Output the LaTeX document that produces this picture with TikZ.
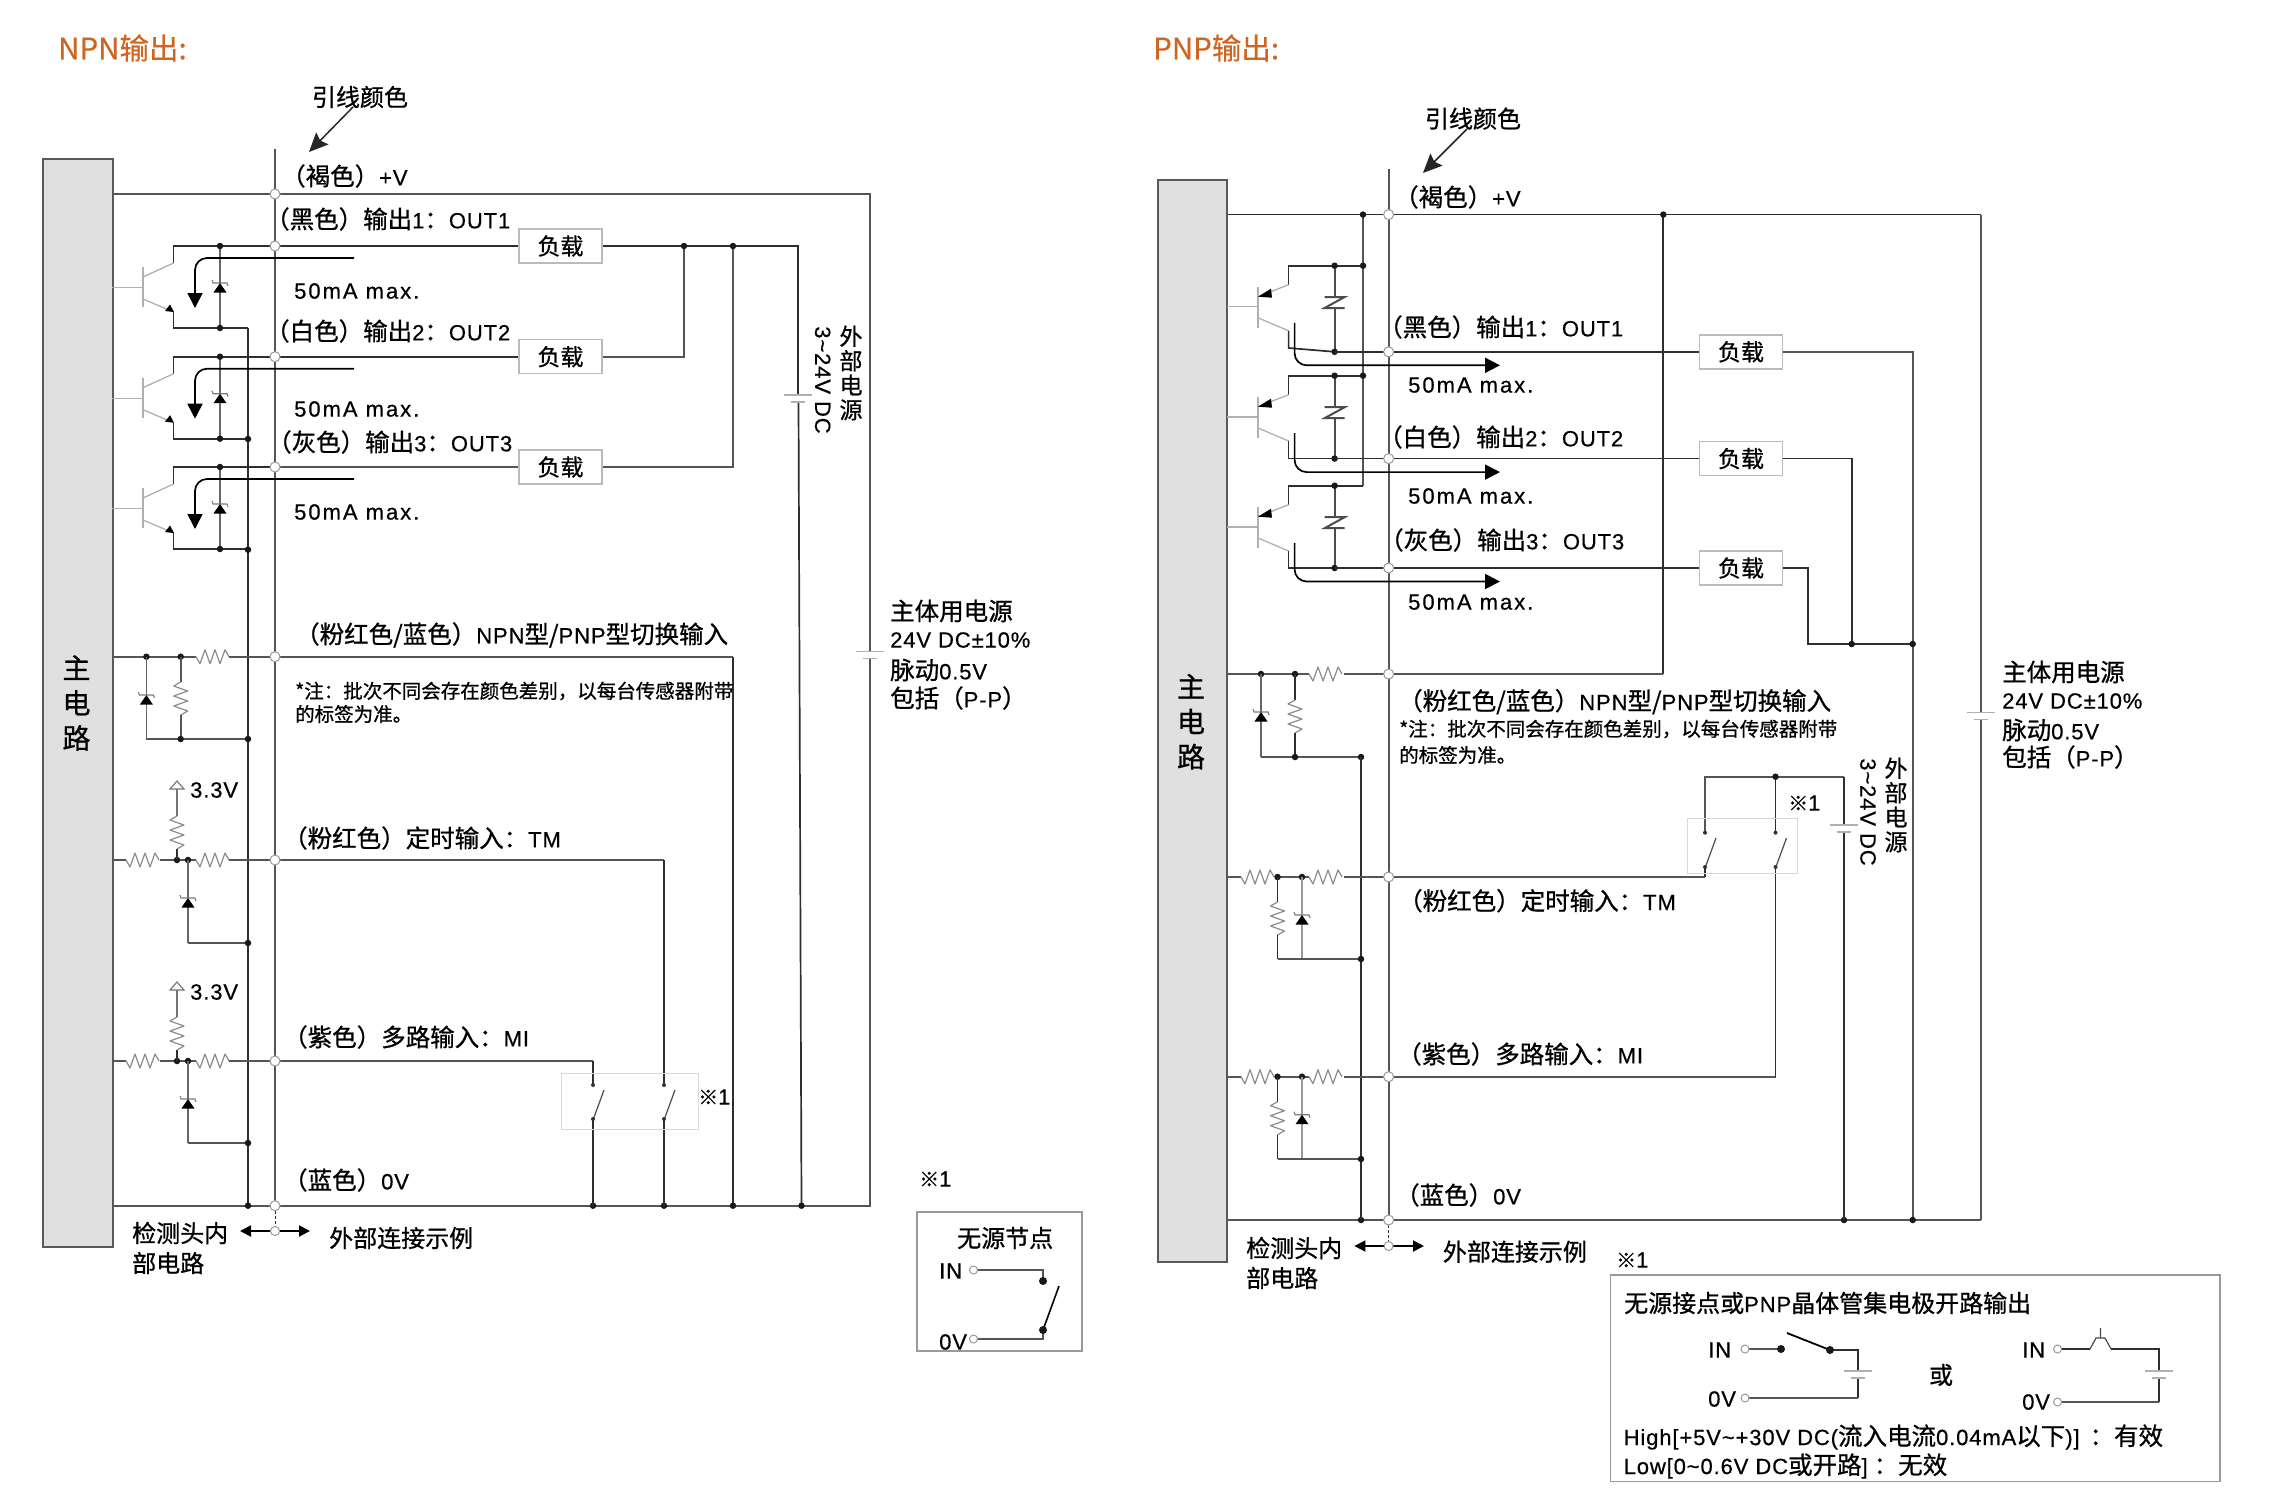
\documentclass[tikz,border=0pt]{standalone}
\usepackage{fontspec}
\usetikzlibrary{arrows.meta}
\setmainfont{Liberation Sans}
\newfontfamily\cjk{Noto Sans CJK SC}[FakeBold=0.8]
\newfontfamily\hdr{Noto Sans CJK SC}[FakeBold=0.3]
\newfontfamily\lat{Liberation Sans}[LetterSpace=4,FakeBold=0.5]
\newfontfamily\latw{Liberation Sans}[LetterSpace=9,FakeBold=0.5]
\newcommand{\fs}[1]{\fontsize{#1}{#1}\selectfont}
\newcommand{\C}[1]{{\fs{24.5}\cjk #1}}
\definecolor{wirec}{HTML}{2E2E2E}
\definecolor{wiretk}{HTML}{555555}
\definecolor{thinc}{HTML}{B0B0B0}
\definecolor{boxc}{HTML}{BBBBBB}
\definecolor{orangec}{HTML}{D0651F}
\tikzset{
  wire/.style={draw=wirec,line width=1.7pt},
  wirethick/.style={draw=wiretk,line width=2.4pt},
  thinw/.style={draw=thinc,line width=1.3pt},
  res/.style={draw=black!45,line width=1.2pt,line join=round},
  cur/.style={draw=black,line width=1.7pt,rounded corners=12pt,-{Triangle[length=15pt,width=15pt]}},
  jdot/.style={circle,fill=black!90,inner sep=0pt,minimum size=6.5pt},
  sdot/.style={circle,fill=black!80,inner sep=0pt,minimum size=4pt},
  term/.style={circle,fill=white,draw=black!40,line width=1pt,inner sep=0pt,minimum size=10pt},
  loadbox/.style={draw=boxc,fill=white,line width=1.5pt,minimum width=83pt,minimum height=34pt,inner sep=0pt,font=\fs{23}\cjk},
  mainbox/.style={draw=black!65,fill=black!12,line width=2pt,inner sep=0pt},
  lbl/.style={anchor=west,inner sep=0pt,font=\fs{22}\lat},
  cn/.style={anchor=west,inner sep=0pt,font=\fs{24}\cjk},
  note/.style={anchor=west,inner sep=0pt,font=\fs{19.5}\cjk},
  head/.style={anchor=west,inner sep=0pt,text=orangec,font=\fs{29.5}\hdr},
  stack/.style={inner sep=0pt,align=center,font=\fontsize{28}{35}\selectfont\cjk},
  vstack/.style={inner sep=0pt,align=center,font=\fontsize{23}{24.5}\selectfont\cjk},
  psbox/.style={draw=black!40,line width=1.3pt,fill=none},
  swbox/.style={draw=black!15,line width=1pt},
  lead/.style={draw=black!85,line width=1.5pt,-{Stealth[length=19pt,width=17pt,inset=3pt]}},
  dbl/.style={draw=black,line width=2pt,{Triangle[length=11pt,width=11pt]}-{Triangle[length=11pt,width=11pt]}}
}
\newcommand{\myhres}[2]{\draw[res,shift={(#1,#2)}] (0,0)--(4,7)--(9,-7)--(14,7)--(19,-7)--(24,7)--(29,-7)--(33,0);}
\newcommand{\myvres}[2]{\draw[res,shift={(#1,#2)}] (0,0)--(-7,4)--(7,9)--(-7,14)--(7,19)--(-7,24)--(7,29)--(0,33);}
\newcommand{\mydiode}[2]{\fill[black,shift={(#1,#2)}] (0,0)--(6.5,9.5)--(-6.5,9.5)--cycle;
  \draw[thinc!70!black,line width=1.1pt,shift={(#1,#2)}] (-8,-3)--(-7,0)--(7,0)--(8,3);}
\newcommand{\mybat}[2]{\draw[thinc,line width=1.6pt,shift={(#1,#2)}] (-14,0)--(14,0) (-7,7)--(7,7);}
\newcommand{\myzen}[2]{\draw[black!70,line width=2pt,shift={(#1,#2)}] (-10,-5.5)--(10,-5.5)--(-10,5.5)--(10,5.5);}
\newcommand{\mysw}[2]{\draw[draw=black!70,line width=1.2pt,shift={(#1,#2)}] (11,4)--(0,34);}
\begin{document}
\begin{tikzpicture}[x=1pt,y=-1pt]
\useasboundingbox (0,0) rectangle (2275,1505);
\fill[white] (0,0) rectangle (2275,1505);
\node[head] (hNPN) at (58,48) {NPN输出:};
\node[head] (hPNP) at (1153,48) {PNP输出:};
% ================= NPN ===================
\node[mainbox,minimum width=69.5pt,minimum height=1088pt] (nbox) at (78,703) {};
\node[stack] (nmain) at (76.5,703) {主\\电\\路};
\coordinate (ntV) at (275,194);
\coordinate (nt1) at (275,246);
\coordinate (nt2) at (275,356.7);
\coordinate (nt3) at (275,467);
\coordinate (ntS) at (275,656.7);
\coordinate (ntT) at (275,860);
\coordinate (ntM) at (275,1061);
\coordinate (nt0) at (275,1205.7);
\node[loadbox] (nL1) at (560.5,246) {负载};
\node[loadbox] (nL2) at (560.5,356.7) {负载};
\node[loadbox] (nL3) at (560.5,467) {负载};
\draw[wirethick] (nbox.east|-ntV) -- (ntV) -- (870,194) -- (870,651.4);
\draw[wirethick] (870,658.4) -- (870,1205.7) -- (nt0) -- (nbox.east|-nt0);
\draw[wirethick,line width=2pt] (275,149) -- (nt0);
\draw[wire,dashed,line width=1pt,dash pattern=on 3pt off 2pt] (nt0) -- (275,1231);
\draw[wire] (nt1) -- (nL1.west);
\draw[wire] (nt2) -- (nL2.west);
\draw[wirethick] (nt3) -- (nL3.west);
\draw[wire] (nL1.east) -- (798,246) -- (798,395);
\draw[wire] (798.5,402) -- (801.5,1205.7);
\draw[wirethick,line width=2pt] (nL2.east) -- (684,356.7) -- (684,246);
\draw[wirethick,line width=2pt] (nL3.east) -- (733,467) -- (733,246);
\draw[wire] (733,656.7) -- (733,1205.7);
\node[jdot] at (684,246) {};
\node[jdot] at (733,246) {};
\node[jdot] at (733,1205.7) {};
\node[jdot] at (801.5,1205.7) {};
\node[jdot] at (664,1205.7) {};
\node[jdot] at (593,1205.7) {};
\mybat{798}{395}
\mybat{870}{651.4}
\draw[wire] (248,328) -- (248,1205.7);
\node[jdot] at (248,1205.7) {};
\draw[wirethick] (ntS) -- (733,656.7);
% transistors
\foreach \ty in {246,356.7,467}{
  \draw[wire] (275,\ty) -- (173.6,\ty) -- (173.6,\ty+17);
  \draw[thinw] (173.6,\ty+17) -- (143,\ty+31);
  \draw[thinw] (143,\ty+21) -- (143,\ty+61);
  \draw[thinw] (112,\ty+41.7) -- (143,\ty+41.7);
  \draw[thinw] (143,\ty+53) -- (173.6,\ty+66);
  \fill[black] (174,\ty+66) -- (165,\ty+65) -- (170,\ty+58.5) -- cycle;
  \draw[wire] (173.6,\ty+66) -- (173.6,\ty+82) -- (248,\ty+82);
  \draw[draw=black!60,line width=1.6pt] (220,\ty) -- (220,\ty+82);
  \mydiode{220}{\ty+37}
  \node[jdot] at (220,\ty) {};
  \node[jdot] at (220,\ty+82) {};
  \draw[cur] (354,\ty+12) -- (195,\ty+12) -- (195,\ty+62);
}
\node[jdot] at (248,439) {};
\node[jdot] at (248,549.7) {};
% switching input
\draw[wirethick] (112,656.7) -- (196,656.7);
\myhres{196}{656.7}
\draw[wirethick] (229,656.7) -- (ntS);
\node[jdot] at (146.4,656.7) {};
\node[jdot] at (180.7,656.7) {};
\draw[draw=black!60,line width=1.6pt] (146.4,656.7) -- (146.4,739);
\mydiode{146.4}{695}
\draw[wirethick] (180.7,656.7) -- (180.7,682);
\myvres{180.7}{682}
\draw[wirethick] (180.7,715) -- (180.7,739);
\draw[wirethick] (146.4,739) -- (248,739);
\node[jdot] at (180.7,739) {};
\node[jdot] at (248,739) {};
% timer and multiplex input
\foreach \iy/\ib/\nn in {860/943/ntT,1061/1143/ntM}{
  \draw[wirethick] (112,\iy) -- (126,\iy);
  \myhres{126}{\iy}
  \draw[wirethick] (160,\iy) -- (196,\iy);
  \myhres{196}{\iy}
  \draw[wirethick] (229,\iy) -- (\nn);
  \node[jdot] at (177,\iy) {};
  \node[jdot] at (188,\iy) {};
  \draw[wire] (177,\iy) -- (177,\iy-11);
  \myvres{177}{\iy-44}
  \draw[thinw,draw=black!55] (177,\iy-44) -- (177,\iy-72);
  \draw[black!55,fill=white,line width=1.1pt] (177,\iy-79) -- (184,\iy-71) -- (170,\iy-71) -- cycle;
  \draw[draw=black!60,line width=1.4pt] (188,\iy) -- (188,\ib);
  \mydiode{188}{\iy+38}
  \draw[wirethick] (188,\ib) -- (248,\ib);
  \node[jdot] at (248,\ib) {};
}
\node[lbl] (n33a) at (190,790) {3.3V};
\node[lbl] (n33b) at (190,992) {3.3V};
\draw[wirethick] (ntT) -- (664,860);
\draw[wire] (664,860) -- (664,1085);
\draw[wirethick] (ntM) -- (593,1061);
\draw[wire] (593,1061) -- (593,1085);
\draw[wire] (593,1119) -- (593,1205.7);
\draw[wire] (664,1119) -- (664,1205.7);
\draw[swbox] (561,1073) rectangle (698,1129);
\mysw{593}{1086} \mysw{664}{1086}
\foreach \sx in {593,664}{\node[sdot] at (\sx,1085) {}; \node[sdot] at (\sx,1119) {};}
\foreach \nn in {ntV,nt1,nt2,nt3,ntS,ntT,ntM,nt0}{\node[term] at (\nn) {};}
\draw[dbl] (240,1231) -- (310,1231);
\node[term,minimum size=9pt] (ntX) at (275,1231) {};
% texts
\node[cn,anchor=center] (nlead) at (360,97) {引线颜色};
\draw[lead] (353,107) -- (309,152);
\node[lbl] (n0) at (281,176) {\C{（褐色）}+V};
\node[lbl] (n1) at (265,219) {\C{（黑色）输出}1\C{：}OUT1};
\node[lbl] (n2) at (265,331) {\C{（白色）输出}2\C{：}OUT2};
\node[lbl] (n3) at (267,442) {\C{（灰色）输出}3\C{：}OUT3};
\node[lbl,font=\fs{22}\latw] (nma) at (294,291) {50mA max.};
\node[lbl,font=\fs{22}\latw] (nmb) at (294,409) {50mA max.};
\node[lbl,font=\fs{22}\latw] (nmc) at (294,512) {50mA max.};
\node[lbl] (nS) at (295,635) {\C{（粉红色/蓝色）}NPN\C{型/}PNP\C{型切换输入}};
\node[note] (nn1) at (295,691) {*注：批次不同会存在颜色差别，以每台传感器附带};
\node[note] (nn2) at (295,714) {的标签为准。};
\node[lbl] (nT) at (283,838) {\C{（粉红色）定时输入：}TM};
\node[lbl] (nM) at (283,1037) {\C{（紫色）多路输入：}MI};
\node[lbl] (nZ) at (283,1180) {\C{（蓝色）}0V};
\node[cn] (nI1) at (132,1233) {检测头内};
\node[cn] (nI2) at (132,1263) {部电路};
\node[cn] (nE) at (329,1238) {外部连接示例};
\node[lbl] (ns1) at (698,1097) {{\fs{20}\cjk ※}1};
\node[lbl] (ns2) at (919,1179) {{\fs{20}\cjk ※}1};
\node[lbl,rotate=-90,anchor=center] (nDC) at (822.7,380) {3\textasciitilde24V DC};
\node[vstack] (nEP) at (851,373) {外\\部\\电\\源};
\node[lbl] (nP1) at (890,611) {\C{主体用电源}};
\node[lbl] (nP2) at (890,640) {24V DC±10\%};
\node[lbl] (nP3) at (890,670) {\C{脉动}0.5V};
\node[lbl] (nP4) at (890,698) {\C{包括（}P-P\C{）}};
\draw[psbox] (917,1212) rectangle (1082,1351);
\node[cn] (nB) at (957,1238) {无源节点};
\node[lbl] (nBI) at (939,1271) {IN};
\node[lbl] (nB0) at (939,1342) {0V};
\coordinate (nbI) at (973.5,1270);
\coordinate (nb0) at (973.5,1339);
\draw[wirethick] (nbI) -- (1043,1270) -- (1043,1281);
\draw[wirethick] (nb0) -- (1043,1339) -- (1043,1330);
\draw[draw=black,line width=1.6pt] (1043,1330) -- (1059,1286);
\node[jdot,minimum size=8pt] at (1043,1281) {};
\node[jdot,minimum size=8pt] at (1043,1330) {};
\node[term,minimum size=8pt] at (nbI) {};
\node[term,minimum size=8pt] at (nb0) {};
% ================= PNP ===================
\node[mainbox,minimum width=69pt,minimum height=1082pt] (pbox) at (1192.5,721) {};
\node[stack] (pmain) at (1191,721.7) {主\\电\\路};
\coordinate (ptV) at (1388.6,214.6);
\coordinate (pt1) at (1388.6,351.8);
\coordinate (pt2) at (1388.6,458.6);
\coordinate (pt3) at (1388.6,568);
\coordinate (ptS) at (1388.6,674);
\coordinate (ptT) at (1388.6,877);
\coordinate (ptM) at (1388.6,1076.7);
\coordinate (pt0) at (1388.6,1220);
\node[loadbox] (pL1) at (1741,351.8) {负载};
\node[loadbox] (pL2) at (1741,458.6) {负载};
\node[loadbox] (pL3) at (1741,568) {负载};
\draw[wire] (pbox.east|-ptV) -- (ptV) -- (1981,214.6);
\draw[wirethick,line width=2pt] (1981,214.6) -- (1981,712.5);
\draw[wirethick,line width=2pt] (1981,719.6) -- (1981,1220);
\draw[wirethick] (1981,1220) -- (pt0) -- (pbox.east|-pt0);
\draw[wirethick,line width=2pt] (1388.6,169) -- (pt0);
\draw[wire,dashed,line width=1pt,dash pattern=on 3pt off 2pt] (pt0) -- (1388.6,1246);
\mybat{1981}{712.5}
\draw[wirethick,line width=2pt] (1363,214.6) -- (1363,485.7);
\node[jdot] at (1363,214.6) {};
\draw[wire] (1663.3,214.6) -- (1663.3,674);
\draw[wirethick] (1663.3,674) -- (ptS);
\node[jdot] at (1663.3,214.6) {};
\draw[wire] (pL1.west) -- (pt1);
\draw[wire] (pL2.west) -- (pt2);
\draw[wire] (pL3.west) -- (pt3);
\draw[wirethick,line width=2pt] (pL1.east) -- (1912.7,351.8) -- (1912.7,1220);
\draw[wire] (pL2.east) -- (1851.7,458.6) -- (1851.7,644);
\draw[wire] (pL3.east) -- (1807.7,568) -- (1807.7,644) -- (1912.7,644);
\node[jdot] at (1851.7,644) {};
\node[jdot] at (1912.7,644) {};
\node[jdot] at (1912.7,1220) {};
\node[jdot] at (1844,1220) {};
\node[jdot] at (1361,1220) {};
% transistors
\foreach \ty/\ot/\by/\em in {265.7/351.8/306.8/348,375.7/458.6/417/458.6,485.7/568/527/568}{
  \draw[wire] (1363,\ty) -- (1288.6,\ty) -- (1288.6,\ty+19);
  \draw[thinw] (1288.6,\ty+19) -- (1258,\ty+31);
  \draw[thinw] (1258,\by-20) -- (1258,\by+21);
  \draw[thinw] (1227,\by) -- (1258,\by);
  \draw[thinw] (1258,\by+11) -- (1288.6,\by+24);
  \fill[black] (1258,\ty+31) -- (1271,\ty+23) -- (1272,\ty+32) -- cycle;
  \draw[wire] (1288.6,\by+24) -- (1288.6,\em) -- (1334.6,\ot);
  \draw[draw=black!70,line width=2pt] (1334.6,\ty) -- (1334.6,\by-9.8);
  \draw[draw=black!70,line width=2pt] (1334.6,\by+1.2) -- (1334.6,\ot);
  \myzen{1334.6}{\by-4.3}
  \node[jdot] at (1334.6,\ty) {};
  \node[jdot] at (1334.6,\ot) {};
  \draw[wire] (1334.6,\ot) -- (1388.6,\ot);
  \draw[cur] (1294.6,\by+16) -- (1294.6,\ot+13.5) -- (1500,\ot+13.5);
}
\node[jdot] at (1363,265.7) {};
\node[jdot] at (1363,375.7) {};
% switching input
\draw[wirethick] (1227,674) -- (1309,674);
\myhres{1309}{674}
\draw[wirethick] (1344,674) -- (ptS);
\node[jdot] at (1261,674) {};
\node[jdot] at (1295,674) {};
\draw[draw=black!60,line width=1.6pt] (1261,674) -- (1261,757);
\mydiode{1261}{712}
\draw[wire] (1295,674) -- (1295,700);
\myvres{1295}{700}
\draw[wire] (1295,733) -- (1295,757);
\draw[wirethick] (1261,757) -- (1361,757);
\node[jdot] at (1295,757) {};
\node[jdot] at (1361,757) {};
\draw[wire] (1361,757) -- (1361,1220);
% timer and multiplex input
\foreach \iy/\ib/\nn in {877/959/ptT,1076.7/1159/ptM}{
  \draw[wirethick] (1227,\iy) -- (1241,\iy);
  \myhres{1241}{\iy}
  \draw[wirethick] (1275,\iy) -- (1309,\iy);
  \myhres{1309}{\iy}
  \draw[wirethick] (1344,\iy) -- (\nn);
  \node[jdot] at (1277.5,\iy) {};
  \node[jdot] at (1302,\iy) {};
  \draw[wire] (1277.5,\iy) -- (1277.5,\iy+25);
  \myvres{1277.5}{\iy+25}
  \draw[wire] (1277.5,\iy+58) -- (1277.5,\ib);
  \draw[draw=black!40,line width=1.6pt] (1302,\iy) -- (1302,\ib);
  \mydiode{1302}{\iy+38}
  \draw[wirethick] (1277.5,\ib) -- (1361,\ib);
  \node[jdot] at (1361,\ib) {};
}
\draw[wirethick] (ptT) -- (1705,877);
\draw[wire] (1705,877) -- (1705,867);
\draw[wirethick] (ptM) -- (1775.5,1076.7);
\draw[wire] (1775.5,1076.7) -- (1775.5,867);
\draw[wirethick] (1705,832.7) -- (1705,776.7) -- (1844,776.7);
\draw[wire] (1775.5,776.7) -- (1775.5,832.7);
\draw[wire] (1844,776.7) -- (1844,825);
\draw[wire] (1844,832) -- (1844,1220);
\mybat{1844}{825}
\node[jdot] at (1775.5,776.7) {};
\draw[swbox] (1687,818) rectangle (1797,873);
\mysw{1705}{834} \mysw{1775.5}{834}
\foreach \sx in {1705,1775.5}{\node[sdot] at (\sx,832.7) {}; \node[sdot] at (\sx,867) {};}
\foreach \nn in {ptV,pt1,pt2,pt3,ptS,ptT,ptM,pt0}{\node[term] at (\nn) {};}
\draw[dbl] (1354.4,1246) -- (1424,1246);
\node[term,minimum size=9pt] (ptX) at (1388.6,1246) {};
% texts
\node[cn,anchor=center] (plead) at (1473,118.6) {引线颜色};
\draw[lead] (1467,129) -- (1423,173);
\node[lbl] (p0) at (1394,197) {\C{（褐色）}+V};
\node[lbl] (p1) at (1378,327) {\C{（黑色）输出}1\C{：}OUT1};
\node[lbl] (p2) at (1378,437) {\C{（白色）输出}2\C{：}OUT2};
\node[lbl] (p3) at (1379,540) {\C{（灰色）输出}3\C{：}OUT3};
\node[lbl,font=\fs{22}\latw] (pma) at (1408,385) {50mA max.};
\node[lbl,font=\fs{22}\latw] (pmb) at (1408,496) {50mA max.};
\node[lbl,font=\fs{22}\latw] (pmc) at (1408,602) {50mA max.};
\node[lbl] (pS) at (1398,701.7) {\C{（粉红色/蓝色）}NPN\C{型/}PNP\C{型切换输入}};
\node[note] (pn1) at (1399,729) {*注：批次不同会存在颜色差别，以每台传感器附带};
\node[note] (pn2) at (1399,755) {的标签为准。};
\node[lbl] (pT) at (1398,900.7) {\C{（粉红色）定时输入：}TM};
\node[lbl] (pM) at (1397,1054) {\C{（紫色）多路输入：}MI};
\node[lbl] (pZ) at (1395,1195) {\C{（蓝色）}0V};
\node[cn] (pI1) at (1246,1248) {检测头内};
\node[cn] (pI2) at (1246,1278) {部电路};
\node[cn] (pE) at (1442.7,1251.7) {外部连接示例};
\node[lbl] (ps1) at (1788,803) {{\fs{20}\cjk ※}1};
\node[lbl] (ps2) at (1616,1260) {{\fs{20}\cjk ※}1};
\node[lbl,rotate=-90,anchor=center] (pDC) at (1868,812) {3\textasciitilde24V DC};
\node[vstack] (pEP) at (1896,805) {外\\部\\电\\源};
\node[lbl] (pP1) at (2002,672) {\C{主体用电源}};
\node[lbl] (pP2) at (2002,701) {24V DC±10\%};
\node[lbl] (pP3) at (2002,730) {\C{脉动}0.5V};
\node[lbl] (pP4) at (2002,757) {\C{包括（}P-P\C{）}};
\draw[psbox] (1610.5,1275) rectangle (2220,1481.7);
\node[cn] (pB) at (1624,1303) {无源接点或{\fs{22}\lat PNP}晶体管集电极开路输出};
\node[lbl] (pBI) at (1708,1350) {IN};
\node[lbl] (pB0) at (1708,1399) {0V};
\coordinate (pbI) at (1745,1349);
\coordinate (pb0) at (1745,1398);
\draw[wirethick] (pbI) -- (1781,1349);
\draw[draw=black,line width=1.8pt] (1787,1333) -- (1830,1350);
\draw[wire] (1830,1350) -- (1858,1350) -- (1858,1371);
\draw[wire] (1858,1378) -- (1858,1398);
\draw[wirethick] (1858,1398) -- (pb0);
\node[jdot,minimum size=8pt] at (1781,1349) {};
\node[jdot,minimum size=8pt] at (1830,1350) {};
\mybat{1858}{1371}
\node[term,minimum size=8pt] at (pbI) {};
\node[term,minimum size=8pt] at (pb0) {};
\node[cn,anchor=center] (por) at (1941,1375) {或};
\node[lbl] (pCI) at (2022,1350) {IN};
\node[lbl] (pC0) at (2022,1402) {0V};
\coordinate (pcI) at (2057.5,1349);
\coordinate (pc0) at (2057.5,1402);
\draw[wire] (pcI) -- (2090,1349);
\draw[draw=black!70,line width=1.2pt] (2090,1349) -- (2096,1338) -- (2105,1338) -- (2111,1349) (2100.5,1328) -- (2100.5,1338);
\draw[wire] (2111,1349) -- (2159,1349) -- (2159,1371);
\draw[wire] (2159,1378) -- (2159,1402);
\draw[wirethick] (2159,1402) -- (pc0);
\mybat{2159}{1371}
\node[term,minimum size=8pt] at (pcI) {};
\node[term,minimum size=8pt] at (pc0) {};
\node[lbl] (pH) at (1623.5,1437) {High[+5V\textasciitilde+30V DC(\C{流入电流}0.04mA\C{以下})]\hspace{10pt}\C{：有效}};
\node[lbl] (pLw) at (1623.5,1466) {Low[0\textasciitilde0.6V DC\C{或开路}]\hspace{6pt}\C{：无效}};
\end{tikzpicture}
\end{document}
